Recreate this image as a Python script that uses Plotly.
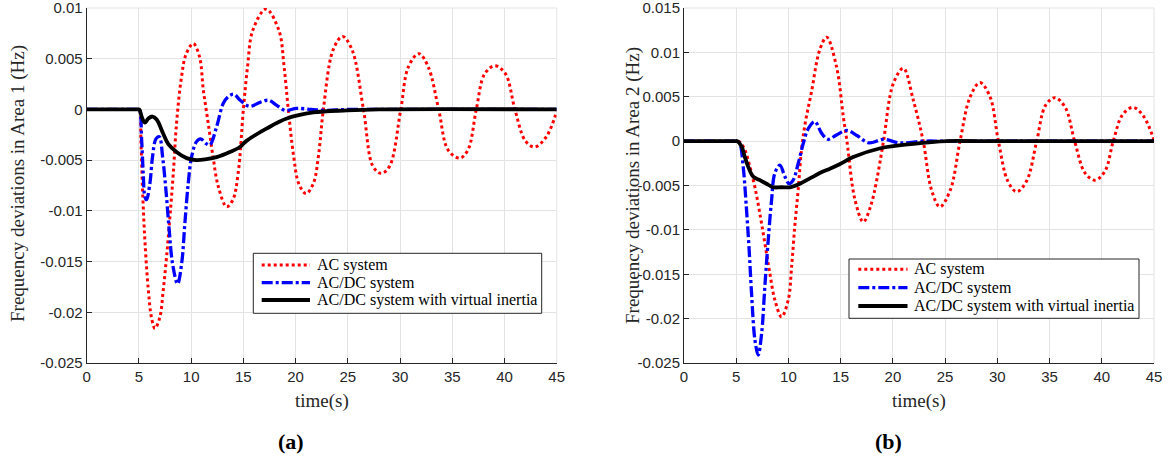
import plotly.graph_objects as go

# ---------------- data ----------------
# Area 1
t_ac1 = [0, 4.9, 5.05, 5.19, 5.35, 5.57, 5.9, 6.2, 6.53, 7.0, 7.33, 7.65, 7.97, 8.29, 8.6, 9.05, 9.5,
         10.2, 10.8, 11.17, 11.64, 12.1, 12.6, 13.4, 14.0, 14.5, 15.0, 15.4, 15.9, 17.17, 18.4, 18.9,
         19.3, 19.8, 20.3, 21.0, 21.7, 22.2, 22.66, 23.6, 24.5, 25.4, 26.5, 27.4, 28.2, 29.0, 30.07,
         30.8, 31.8, 32.7, 33.7, 34.6, 35.7, 36.5, 37.3, 38.1, 39.1, 40.1, 41.0, 42.0, 42.9, 44.0, 45.0]
f_ac1 = [0, 0, 0, -0.003, -0.008, -0.0129, -0.0178, -0.0205, -0.0216, -0.0205, -0.0178, -0.0145,
         -0.0106, -0.0063, -0.0014, 0.003, 0.0054, 0.0065, 0.0052, 0.0019, -0.0014, -0.0047, -0.0076,
         -0.0096, -0.0089, -0.0063, 0, 0.0042, 0.0078, 0.0099, 0.0078, 0.0042, 0, -0.0045, -0.0073,
         -0.0083, -0.0073, -0.0045, 0, 0.0059, 0.0072, 0.0059, 0, -0.0056, -0.0063, -0.0056, 0, 0.0042,
         0.0055, 0.0042, 0, -0.004, -0.0048, -0.004, 0, 0.0035, 0.0043, 0.0035, 0, -0.0031, -0.0037,
         -0.0027, -0.0002]

t_acdc1 = [0, 4.9, 5.05, 5.26, 5.41, 5.57, 5.73, 6.05, 6.3, 6.63, 6.95, 7.27, 7.59, 7.9, 8.22, 8.7,
           9.09, 9.4, 9.72, 10.04, 10.5, 10.9, 11.48, 11.8, 12.44, 13.08, 13.6, 14.1, 14.7, 15.6, 16.6,
           17.4, 18.2, 19.0, 20.1, 21.5, 23.0, 25.0, 30.0, 45.0]
f_acdc1 = [0, 0, 0, -0.003, -0.0063, -0.0086, -0.0089, -0.0073, -0.0047, -0.0029, -0.0027, -0.0047,
           -0.008, -0.0119, -0.0152, -0.0172, -0.0152, -0.0112, -0.0073, -0.0047, -0.0032, -0.0029,
           -0.0034, -0.0035, -0.0017, 0.0006, 0.0013, 0.0015, 0.0009, 0.0003, 0.0007, 0.0009, 0.0004,
           -0.0001, 0.0001, 0.0, -0.0001, 0, 0, 0]

t_vi1 = [0, 4.9, 5.05, 5.26, 5.57, 5.9, 6.3, 6.7, 7.33, 7.8, 8.6, 9.57, 10.5, 11.48, 12.44, 13.7,
         14.67, 15.3, 17.2, 19.15, 21.7, 24.9, 28.0, 45.0]
f_vi1 = [0, 0, 0, -0.0007, -0.0013, -0.0009, -0.0007, -0.001, -0.0024, -0.0034, -0.0042, -0.0048,
         -0.005, -0.0049, -0.0047, -0.0042, -0.0037, -0.0031, -0.0019, -0.0009, -0.0003, -0.0001, 0, 0]

# Area 2
t_ac2 = [0, 4.9, 5.1, 5.35, 5.83, 6.31, 6.79, 7.27, 7.74, 8.22, 8.7, 9.34, 9.98, 10.3, 10.6, 10.93,
         11.25, 11.6, 12.2, 13.0, 13.66, 14.6, 15.26, 15.6, 16.37, 17.17, 17.9, 18.45, 19.1, 20.04,
         21.0, 21.96, 22.9, 23.7, 24.5, 25.5, 26.43, 27.4, 28.34, 29.3, 30.1, 31.0, 31.85, 32.8,
         33.77, 34.6, 35.5, 36.5, 37.4, 38.4, 39.35, 40.3, 41.1, 42.0, 43.0, 44.0, 45.0]
f_ac2 = [0, 0, 0, -0.0001, -0.001, -0.0029, -0.0052, -0.0082, -0.0115, -0.0149, -0.0179, -0.0198,
         -0.0179, -0.0142, -0.0097, -0.0055, -0.001, 0.002, 0.0055, 0.0103, 0.0117, 0.0084, 0.0027,
         0, -0.0066, -0.0091, -0.0072, -0.0044, 0, 0.0065, 0.0082, 0.0046, 0, -0.0055, -0.0074,
         -0.0055, 0, 0.005, 0.0066, 0.005, 0, -0.0045, -0.0057, -0.0045, 0, 0.004, 0.0049, 0.0038,
         0, -0.0036, -0.0044, -0.0034, 0, 0.003, 0.0038, 0.0028, 0.0001]

t_acdc2 = [0, 4.9, 5.1, 5.35, 5.67, 5.99, 6.24, 6.47, 6.79, 7.1, 7.43, 7.74, 8.06, 8.38, 8.7, 9.18,
           9.66, 10.07, 10.45, 10.94, 11.41, 11.9, 12.53, 13.17, 13.8, 14.6, 15.6, 16.6, 17.7, 19.1,
           20.7, 22.9, 25.0, 45.0]
f_acdc2 = [0, 0, 0, -0.0003, -0.0029, -0.0078, -0.0123, -0.0172, -0.0224, -0.0241, -0.0217, -0.0164,
           -0.0112, -0.0067, -0.0036, -0.0027, -0.004, -0.0048, -0.0044, -0.0025, -0.0003, 0.0014,
           0.0022, 0.0009, 0.0002, 0.0007, 0.0012, 0.0006, -0.0002, 0.0002, -0.0002, 0, 0, 0]

t_vi2 = [0, 4.9, 5.1, 5.51, 5.83, 6.15, 6.63, 7.27, 7.9, 8.54, 9.34, 10.14, 11.1, 12.05, 13.0,
         13.97, 14.9, 16.2, 18.8, 21.96, 25.2, 28.0, 45.0]
f_vi2 = [0, 0, 0, -0.0006, -0.0018, -0.0029, -0.004, -0.0044, -0.0048, -0.0052, -0.0052, -0.0052,
         -0.0048, -0.0042, -0.0036, -0.0031, -0.0026, -0.0018, -0.0008, -0.0003, 0, 0, 0]

series_names = ["AC system", "AC/DC system", "AC/DC system with virtual inertia"]
x_ticks = [0, 5, 10, 15, 20, 25, 30, 35, 40, 45]
y1_ticks = [-0.025, -0.02, -0.015, -0.01, -0.005, 0, 0.005, 0.01]
y1_labels = ["-0.025", "-0.02", "-0.015", "-0.01", "-0.005", "0", "0.005", "0.01"]
y2_ticks = [-0.025, -0.02, -0.015, -0.01, -0.005, 0, 0.005, 0.01, 0.015]
y2_labels = ["-0.025", "-0.02", "-0.015", "-0.01", "-0.005", "0", "0.005", "0.01", "0.015"]

# ---------------- figure ----------------
W, H = 1173, 465
AX = "#262626"
GRID = "#e3e3e3"
serif = "Liberation Serif"

styles = [
    dict(color="#ff0000", width=3, dash="dot"),
    dict(color="#0000ff", width=3.3, dash="11px,3px,3px,3px"),
    dict(color="#000000", width=3.8, dash="solid"),
]

fig = go.Figure()
panels = [
    ("x", "y", [(t_ac1, f_ac1), (t_acdc1, f_acdc1), (t_vi1, f_vi1)]),
    ("x2", "y2", [(t_ac2, f_ac2), (t_acdc2, f_acdc2), (t_vi2, f_vi2)]),
]
for xa, ya, data in panels:
    for name, st, (t, f) in zip(series_names, styles, data):
        fig.add_trace(go.Scatter(
            x=t, y=f, mode="lines", name=name, xaxis=xa, yaxis=ya, showlegend=False,
            line=dict(color=st["color"], width=st["width"], dash=st["dash"],
                      shape="spline", smoothing=1.0),
        ))

def xaxis(domain, anchor):
    return dict(domain=domain, anchor=anchor, range=[-0.0001, 45.0001], tickvals=x_ticks,
                showgrid=True, gridcolor=GRID, gridwidth=1, zeroline=False, automargin=False,
                showline=True, linecolor=AX, linewidth=1, ticks="inside", ticklen=5,
                ticklabeloverflow="allow", layer="below traces",
                tickcolor=AX, tickfont=dict(family="Liberation Sans", size=15, color=AX))

def yaxis(domain, anchor, rng, tv, tt):
    return dict(domain=domain, anchor=anchor, range=rng, tickvals=tv, ticktext=tt,
                showgrid=True, gridcolor=GRID, gridwidth=1, zeroline=False, automargin=False,
                showline=True, linecolor=AX, linewidth=1, ticks="inside", ticklen=5,
                ticklabeloverflow="allow", layer="below traces",
                tickcolor=AX, tickfont=dict(family="Liberation Sans", size=15, color=AX))

ydom = [(H - 363) / H, (H - 8) / H]

ann = []
shapes = []

# grid lines along the top and right edges of each panel
for xr, yr in [("x", "y"), ("x2", "y2")]:
    shapes.append(dict(type="line", xref=xr + " domain", yref=yr + " domain", x0=0, x1=1, y0=1, y1=1,
                       line=dict(color=GRID, width=1), layer="below"))
    shapes.append(dict(type="line", xref=xr + " domain", yref=yr + " domain", x0=1, x1=1, y0=0, y1=1,
                       line=dict(color=GRID, width=1), layer="below"))

for cx, lab in [(321.7, "(a)"), (919.0, "(b)")]:
    ann.append(dict(text="time(s)", x=cx / W, y=1 - 401 / H, xref="paper", yref="paper",
                    showarrow=False, xanchor="center", yanchor="middle",
                    font=dict(family=serif, size=19, color=AX)))
    ann.append(dict(text="<b>" + lab + "</b>", x=(cx - 31) / W, y=1 - 441 / H, xref="paper",
                    yref="paper", showarrow=False, xanchor="center", yanchor="middle",
                    font=dict(family=serif, size=22, color="#000")))
ann.append(dict(text="Frequency deviations in Area 1 (Hz)", x=18 / W, y=1 - 184 / H, xref="paper",
                yref="paper", showarrow=False, textangle=-90, xanchor="center", yanchor="middle",
                font=dict(family=serif, size=19, color=AX)))
ann.append(dict(text="Frequency deviations in Area 2 (Hz)", x=633 / W, y=1 - 186 / H, xref="paper",
                yref="paper", showarrow=False, textangle=-90, xanchor="center", yanchor="middle",
                font=dict(family=serif, size=19, color=AX)))

# legend boxes (one per panel), drawn as a framed key
legend_boxes = [
    dict(x0=253.3, x1=541.7, y0=253.3, y1=313.3, rows=[265.0, 282.7, 300.0], s0=261.7, s1=310.0, tx=314.5),
    dict(x0=849.0, x1=1139.0, y0=259.0, y1=318.3, rows=[269.3, 287.7, 306.0], s0=858.3, s1=907.5, tx=911.5),
]
for lb in legend_boxes:
    shapes.append(dict(type="rect", xref="paper", yref="paper",
                       x0=lb["x0"] / W, x1=lb["x1"] / W, y0=1 - lb["y1"] / H, y1=1 - lb["y0"] / H,
                       line=dict(color=AX, width=1), fillcolor="white", layer="above"))
    for name, st, ry in zip(series_names, styles, lb["rows"]):
        shapes.append(dict(type="line", xref="paper", yref="paper",
                           x0=lb["s0"] / W, x1=lb["s1"] / W, y0=1 - ry / H, y1=1 - ry / H,
                           line=dict(color=st["color"], width=st["width"], dash=st["dash"]),
                           layer="above"))
        ann.append(dict(text=name, x=lb["tx"] / W, y=1 - ry / H, xref="paper", yref="paper",
                        showarrow=False, xanchor="left", yanchor="middle",
                        font=dict(family=serif, size=16, color="#000")))

fig.update_layout(
    width=W, height=H, margin=dict(l=0, r=0, t=0, b=0),
    paper_bgcolor="white", plot_bgcolor="white",
    xaxis=xaxis([86.7 / W, 556.7 / W], "y"),
    yaxis=yaxis(ydom, "x", [-0.0250001, 0.0100001], y1_ticks, y1_labels),
    xaxis2=xaxis([684 / W, 1154 / W], "y2"),
    yaxis2=yaxis(ydom, "x2", [-0.0250001, 0.0150001], y2_ticks, y2_labels),
    annotations=ann,
    shapes=shapes,
    showlegend=False,
    hovermode=False,
)

fig.write_html("out.html",
               config={"displayModeBar": False, "staticPlot": True},
               post_script="document.body.style.margin='0px';document.body.style.padding='0px';")
